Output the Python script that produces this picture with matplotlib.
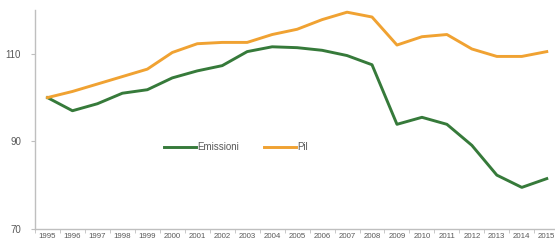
import matplotlib
matplotlib.use("Agg")
import matplotlib.pyplot as plt
from matplotlib.ticker import FixedLocator

# --- Data (index, 1995 = 100) ---
years = [str(y) for y in range(1995, 2016)]
emissioni = [100.0, 97.0, 98.6, 101.0, 101.8, 104.5, 106.1, 107.3, 110.5, 111.6,
             111.4, 110.8, 109.6, 107.5, 93.9, 95.5, 93.9, 89.1, 82.3, 79.5, 81.5]
pil = [100.0, 101.4, 103.1, 104.8, 106.5, 110.3, 112.3, 112.6, 112.6, 114.4,
       115.6, 117.8, 119.5, 118.4, 112.0, 113.9, 114.4, 111.1, 109.4, 109.4, 110.5]
y_ticks = [70, 90, 110]

green = "#367a3a"
orange = "#f0a232"
grey_text = "#595959"
grey_axis = "#bfbfbf"

plt.rcParams["font.family"] = ["Liberation Sans", "DejaVu Sans"]

fig = plt.figure(figsize=(5.55, 2.42), dpi=100)
ax = fig.add_axes([35 / 555, 1 - 229 / 242, 520 / 555, 219 / 242])

x = list(range(len(years)))
ax.plot(x, emissioni, color=green, lw=2.1, label="Emissioni", solid_joinstyle="round")
ax.plot(x, pil, color=orange, lw=2.1, label="Pil", solid_joinstyle="round")

ax.set_xlim(-0.5, 20.33)
ax.set_ylim(70, 120)

# axes styling, Excel-like
for side in ("top", "right"):
    ax.spines[side].set_visible(False)
for side in ("left", "bottom"):
    ax.spines[side].set_color(grey_axis)
    ax.spines[side].set_linewidth(1.0)

ax.set_xticks(x)
ax.set_xticklabels(years)
ax.xaxis.set_minor_locator(FixedLocator([i - 0.5 for i in range(len(years) + 1)]))
ax.tick_params(axis="x", which="major", length=0, pad=3, labelsize=5.7, labelcolor=grey_text)
ax.tick_params(axis="x", which="minor", length=3, color=grey_axis)

ax.set_yticks(y_ticks)
ax.tick_params(axis="y", length=3, color=grey_axis, labelsize=7, labelcolor=grey_text, pad=7)

leg = ax.legend(loc="center", bbox_to_anchor=(236 / 555, 1 - 147 / 242),
                bbox_transform=fig.transFigure, ncol=2, frameon=False,
                fontsize=7, handlelength=3.3, handletextpad=0.1, columnspacing=2.6)
for t in leg.get_texts():
    t.set_color(grey_text)

fig.savefig("out.png", dpi=100)
